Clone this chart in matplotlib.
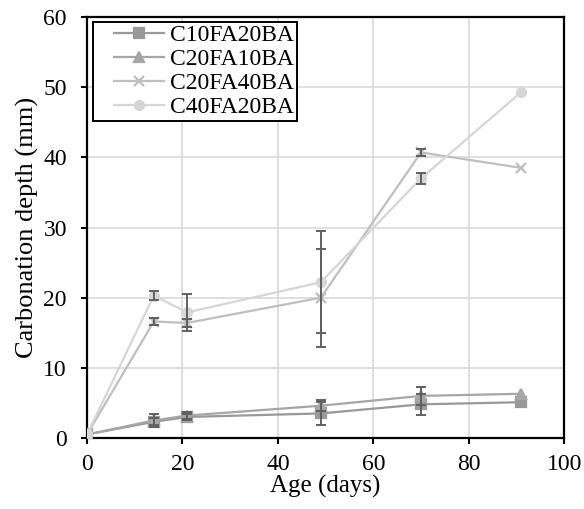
import matplotlib
matplotlib.use("Agg")
import matplotlib.pyplot as plt
from matplotlib.legend_handler import HandlerLine2D

plt.rcParams['font.family'] = ['Liberation Serif', 'DejaVu Serif']

# carbonation depth vs age, one series per mix
dias = [0, 14, 21, 49, 70, 91]
nombres = ["C10FA20BA", "C20FA10BA", "C20FA40BA", "C40FA20BA"]
c10fa20 = [0.5, 2.3, 3.0, 3.5, 4.8, 5.1]
c20fa10 = [0.5, 2.5, 3.2, 4.6, 6.0, 6.3]
c20fa40 = [0.5, 16.6, 16.4, 20.0, 40.7, 38.5]
c40fa20 = [0.5, 20.3, 17.9, 22.2, 37.0, 49.3]
err_c10fa20 = [0, 0.5, 0.4, 1.7, 1.5, 0]
err_c20fa10 = [0, 0.9, 0.5, 0.8, 1.3, 0]
err_c20fa40 = [0, 0.5, 0.6, 7.0, 0.5, 0]
err_c40fa20 = [0, 0.7, 2.6, 7.3, 0.8, 0]

series = [c10fa20, c20fa10, c20fa40, c40fa20]
errores = [err_c10fa20, err_c20fa10, err_c20fa40, err_c40fa20]
marcas = ["s", "^", "x", "o"]
colores = ["#999999", "#a6a6a6", "#bfbfbf", "#d6d6d6"]

fig = plt.figure(figsize=(5.84, 5.09), dpi=100)
ax = fig.add_axes([0.149, 0.1395, 0.817, 0.827])

lineas = []
for y, e, m, c, n in zip(series, errores, marcas, colores, nombres):
    l, = ax.plot(dias, y, marker=m, color=c, label=n, lw=1.6, ms=6.5,
                 mew=1.6, zorder=3)
    lineas.append(l)
    # only the ages that have a measured spread
    idx = [i for i in range(len(dias)) if e[i] > 0]
    ax.errorbar([dias[i] for i in idx], [y[i] for i in idx],
                yerr=[e[i] for i in idx], fmt="none", ecolor="#606060",
                elinewidth=1.4, capsize=3.5, capthick=1.4, zorder=4)

ax.set_xlim(0, 100)
ax.set_ylim(0, 60)
ax.set_xticks(range(0, 101, 20))
ax.set_yticks(range(0, 61, 10))
ax.grid(True, color="#dcdcdc", lw=1.3, zorder=0)
ax.set_axisbelow(True)
for s in ax.spines.values():
    s.set_linewidth(1.6)
ax.tick_params(direction="out", length=4.5, width=1.5, labelsize=17)
ax.tick_params(axis="x", pad=7)
ax.tick_params(axis="y", pad=10)
ax.set_xlabel("Age (days)", fontsize=18, labelpad=0)
ax.set_ylabel("Carbonation depth (mm)", fontsize=19, labelpad=3)

hmap = {l: HandlerLine2D(xpad=0.75) for l in lineas}
leg = ax.legend(loc="upper left", bbox_to_anchor=(0.0126, 0.988),
                borderaxespad=0, fontsize=17, fancybox=False,
                edgecolor="black", framealpha=1, labelspacing=0.1,
                handlelength=2.9, handletextpad=0.25, borderpad=0.12,
                handler_map=hmap)
leg.get_frame().set_linewidth(1.4)

fig.savefig("out.png", dpi=100)
